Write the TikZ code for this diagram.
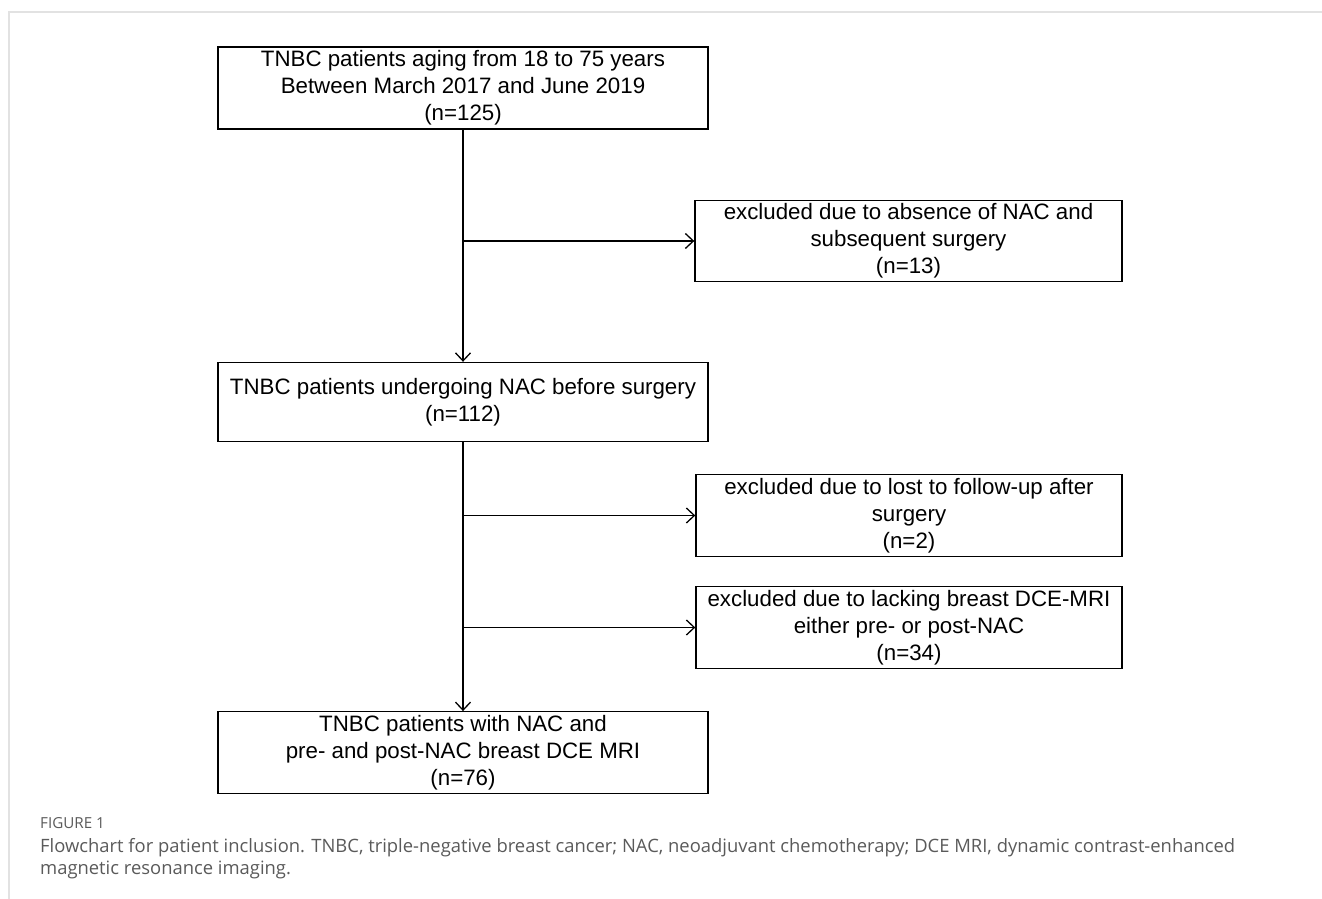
\documentclass[tikz,border=0pt]{standalone}
\usepackage{fontspec}
\setmainfont{Liberation Sans}
\newfontfamily\capfont{Open Sans}
\usetikzlibrary{arrows.meta}
\definecolor{framegray}{HTML}{E2E2E2}
\definecolor{capgray}{HTML}{5A5A5A}
\tikzset{
  flowbox/.style={draw,line width=1.4pt,align=center,
    font=\fontsize{22.3}{27}\selectfont},
  flowarrow/.style={line width=1.3pt,-{Straight Barb[length=8pt,width=15pt,line width=1.3pt]}}
}
\begin{document}
\begin{tikzpicture}[x=1pt,y=-1pt]
\useasboundingbox (0,0) rectangle (1322,899);
% page frame
\draw[framegray,line width=2pt] (9,899) -- (9,12) -- (1322,12);
% boxes
\node[flowbox,minimum width=490pt,minimum height=82pt] (total) at (463,88)
  {TNBC patients aging from 18 to 75 years\\Between March 2017 and June 2019\\(n=125)};
\node[flowbox,minimum width=427pt,minimum height=80pt] (exnac) at (908.5,241)
  {excluded due to absence of NAC and\\subsequent surgery\\(n=13)};
\node[flowbox,minimum width=490pt,minimum height=79pt] (nac) at (463,402)
  {TNBC patients undergoing NAC before surgery\\(n=112)};
\node[flowbox,minimum width=426pt,minimum height=78pt] (exlost) at (909,515.5)
  {excluded due to lost to follow-up after\\surgery\\(n=2)};
\node[flowbox,minimum width=426pt,minimum height=78pt] (exmri) at (909,627.5)
  {excluded due to lacking breast DCE-MRI\\either pre- or post-NAC\\(n=34)};
\node[flowbox,minimum width=490pt,minimum height=80pt] (final) at (463,752.5)
  {TNBC patients with NAC and\\pre- and post-NAC breast DCE MRI\\(n=76)};
% connectors
\draw[flowarrow] (total.south) -- (nac.north);
\draw[flowarrow] (exnac.west -| total.south) -- (exnac.west);
\draw[flowarrow] (nac.south) -- (final.north);
\draw[flowarrow] (exlost.west -| nac.south) -- (exlost.west);
\draw[flowarrow] (exmri.west -| nac.south) -- (exmri.west);
% caption
\node[anchor=west,text=capgray,inner sep=0pt,font=\capfont\fontsize{15.2}{17}\selectfont] (figlabel) at (40,823) {FIGURE 1};
\node[anchor=north west,text=capgray,align=left,inner sep=0pt,
  font=\capfont\fontsize{18.4}{22.5}\selectfont] (caption) at (40,838)
  {Flowchart for patient inclusion. TNBC, triple-negative breast cancer; NAC, neoadjuvant chemotherapy; DCE MRI, dynamic contrast-enhanced\\magnetic resonance imaging.};
\end{tikzpicture}
\end{document}
